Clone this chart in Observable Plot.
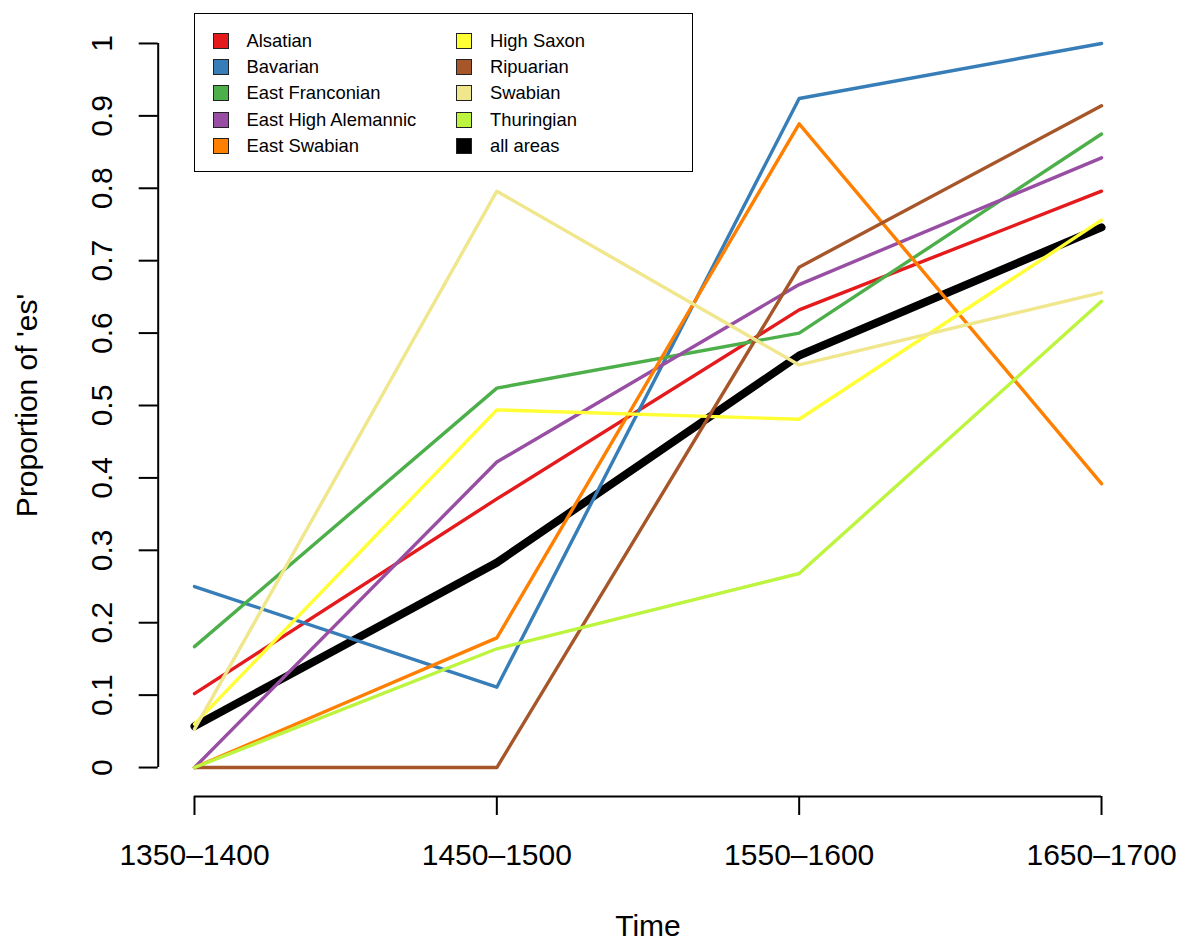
<!DOCTYPE html>
<html>
<head>
<meta charset="utf-8">
<script src="https://cdn.jsdelivr.net/npm/d3@7"></script>
<script src="https://cdn.jsdelivr.net/npm/@observablehq/plot@0.6"></script>
<style>
  html, body { margin: 0; padding: 0; background: #fff; }
  #wrap { position: relative; width: 1184px; height: 940px; font-family: "Liberation Sans", Arial, Helvetica, sans-serif; }
  #legend { position: absolute; left: 194px; top: 13px; width: 497px; height: 157px; border: 1.7px solid #000; background: #fff; box-sizing: content-box; }
  .item { position: absolute; display: flex; align-items: center; height: 20px; font-size: 18.4px; color: #000; white-space: nowrap; }
  .sw { width: 16px; height: 16px; border: 1.3px solid #222; margin-right: 18px; box-sizing: border-box; flex: none; }
</style>
</head>
<body>
<div id="wrap"><div id="legend"></div></div>
<script>
// ---- data ----
const periods = ["1350–1400", "1450–1500", "1550–1600", "1650–1700"];
const areas = ["Alsatian", "Bavarian", "East Franconian", "East High Alemannic", "East Swabian",
               "High Saxon", "Ripuarian", "Swabian", "Thuringian", "all areas"];
const colors = ["#E41A1C", "#377EB8", "#4DAF4A", "#984EA3", "#FF7F00",
                "#FFFF33", "#A65628", "#F0E68C", "#BDF53E", "#000000"];

const alsatian          = [0.102, 0.371, 0.632, 0.796];
const bavarian          = [0.250, 0.111, 0.924, 1.000];
const eastFranconian    = [0.167, 0.524, 0.600, 0.875];
const eastHighAlemannic = [0.000, 0.422, 0.667, 0.842];
const eastSwabian       = [0.000, 0.179, 0.889, 0.392];
const highSaxon         = [0.060, 0.494, 0.481, 0.756];
const ripuarian         = [0.000, 0.000, 0.691, 0.914];
const swabian           = [0.053, 0.796, 0.556, 0.656];
const thuringian        = [0.000, 0.164, 0.268, 0.644];
const allAreas          = [0.057, 0.283, 0.569, 0.746];

const yTicks = [0, 0.1, 0.2, 0.3, 0.4, 0.5, 0.6, 0.7, 0.8, 0.9, 1];

// ---- build table ----
const seriesValues = [alsatian, bavarian, eastFranconian, eastHighAlemannic, eastSwabian,
                      highSaxon, ripuarian, swabian, thuringian, allAreas];
const rows = [];
areas.forEach((a, k) => seriesValues[k].forEach((v, i) => rows.push({area: a, t: i + 1, value: v})));
const totalRows = rows.filter(d => d.area === "all areas");
const areaRows = rows.filter(d => d.area !== "all areas");

const n = periods.length;
const xIdx = periods.map((p, i) => i + 1);
const xPad = 0.04 * (n - 1);
const yLo = yTicks[0], yHi = yTicks[yTicks.length - 1];
const yPad = 0.04 * (yHi - yLo);

const font = "Liberation Sans, Arial, Helvetica, sans-serif";

const chart = Plot.plot({
  width: 1184,
  height: 940,
  marginLeft: 157.7,
  marginRight: 46.7,
  marginTop: 14,
  marginBottom: 144,
  style: {fontFamily: font, fontSize: "30px", background: "white", color: "black"},
  x: {type: "linear", domain: [1 - xPad, n + xPad], axis: null},
  y: {type: "linear", domain: [yLo - yPad, yHi + yPad], axis: null},
  color: {domain: areas, range: colors},
  marks: [
    // axis lines (from first to last tick, R style)
    Plot.ruleX([1 - xPad], {y1: yLo, y2: yHi, stroke: "black", strokeWidth: 2}),
    Plot.ruleY([yLo - yPad], {x1: 1, x2: n, stroke: "black", strokeWidth: 2}),
    Plot.axisY(yTicks, {anchor: "left", tickSize: 19, tickRotate: -90, tickPadding: 27,
      tickFormat: d3.format("~g"), fontSize: 30, strokeWidth: 2, label: null}),
    Plot.axisX(xIdx, {anchor: "bottom", tickSize: 19, tickPadding: 28,
      tickFormat: i => periods[i - 1], fontSize: 30, strokeWidth: 2, label: null}),
    // axis titles
    Plot.text(["Proportion of 'es'"], {frameAnchor: "left", rotate: -90, dx: -131,
      textAnchor: "middle", lineAnchor: "middle", fontSize: 30}),
    Plot.text(["Time"], {frameAnchor: "bottom", dy: 139, textAnchor: "middle",
      lineAnchor: "bottom", fontSize: 30}),
    // data lines
    Plot.line(totalRows, {x: "t", y: "value", z: "area", stroke: "area", strokeWidth: 8,
      strokeLinejoin: "round", strokeLinecap: "round"}),
    Plot.line(areaRows, {x: "t", y: "value", z: "area", stroke: "area", strokeWidth: 3.4,
      strokeLinejoin: "round", strokeLinecap: "round"})
  ]
});
const wrap = document.getElementById("wrap");
wrap.insertBefore(chart, wrap.firstChild);

// ---- legend (two columns, five rows) ----
const legend = document.getElementById("legend");
const perCol = Math.ceil(areas.length / 2);
areas.forEach((a, k) => {
  const col = Math.floor(k / perCol), row = k % perCol;
  const item = document.createElement("div");
  item.className = "item";
  item.style.left = (17.5 + col * 243.5) + "px";
  item.style.top = (17 + row * 26.2) + "px";
  const sw = document.createElement("div");
  sw.className = "sw";
  sw.style.background = colors[k];
  const label = document.createElement("span");
  label.textContent = a;
  item.appendChild(sw);
  item.appendChild(label);
  legend.appendChild(item);
});
</script>
</body>
</html>
